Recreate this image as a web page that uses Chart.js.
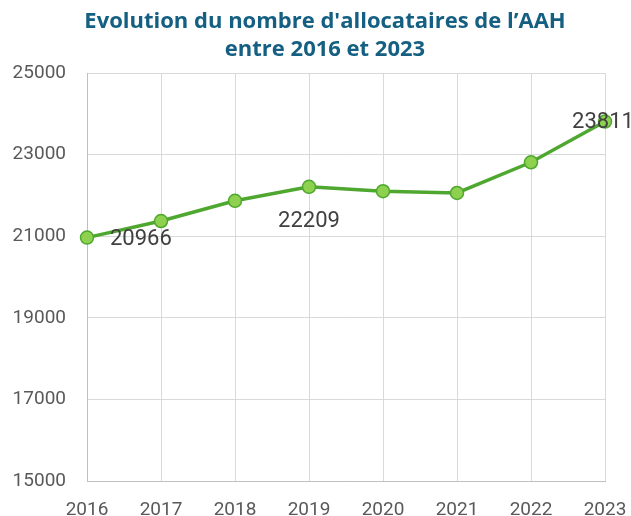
<!DOCTYPE html>
<html>
<head>
<meta charset="utf-8">
<script src="https://cdn.jsdelivr.net/npm/chart.js@4/dist/chart.umd.min.js"></script>
<style>
html,body{margin:0;padding:0;background:#fff;}
#wrap{width:631px;height:516px;}
</style>
</head>
<body>
<div id="wrap"><canvas id="c" width="631" height="516"></canvas></div>
<script>
const years = ['2016','2017','2018','2019','2020','2021','2022','2023'];
const allocataires = [20966, 21372, 21867, 22209, 22102, 22060, 22812, 23811];
const yTicks = [15000, 17000, 19000, 21000, 23000, 25000];
const titleLines = ["Evolution du nombre d'allocataires de l\u2019AAH", "entre 2016 et 2023"];
// which points carry a value label, and where
const labelPlacement = {0: 'right', 3: 'below', 7: 'center'};

const chartTitle = {
  id: 'chartTitle',
  afterDraw(chart) {
    const ctx = chart.ctx;
    ctx.save();
    ctx.font = 'bold 22px "Open Sans", sans-serif';
    ctx.fillStyle = '#156082';
    ctx.textAlign = 'center';
    ctx.textBaseline = 'middle';
    titleLines.forEach((t, i) => ctx.fillText(t, 325, 22 + i * 28));
    ctx.restore();
  }
};

const valueLabels = {
  id: 'valueLabels',
  afterDatasetsDraw(chart) {
    const ctx = chart.ctx;
    const meta = chart.getDatasetMeta(0);
    ctx.save();
    ctx.font = '22px Roboto, "Liberation Sans", sans-serif';
    ctx.fillStyle = '#404040';
    ctx.textBaseline = 'middle';
    Object.keys(labelPlacement).forEach(k => {
      const i = +k;
      const pt = meta.data[i];
      const txt = String(allocataires[i]);
      const place = labelPlacement[k];
      if (place === 'right') {
        ctx.textAlign = 'left';
        ctx.fillText(txt, pt.x + 23, pt.y + 2);
      } else if (place === 'below') {
        ctx.textAlign = 'center';
        ctx.fillText(txt, pt.x, pt.y + 35);
      } else {
        ctx.textAlign = 'center';
        ctx.fillText(txt, pt.x - 2, pt.y + 1);
      }
    });
    ctx.restore();
  }
};

new Chart(document.getElementById('c'), {
  type: 'line',
  data: {
    labels: years,
    datasets: [{
      data: allocataires,
      borderColor: '#4ea72e',
      borderWidth: 3.5,
      backgroundColor: '#8ed14f',
      pointBackgroundColor: '#8ed14f',
      pointBorderColor: '#4ea72e',
      pointBorderWidth: 1.5,
      pointRadius: 6.5,
      tension: 0,
      clip: false
    }]
  },
  options: {
    responsive: false,
    animation: false,
    devicePixelRatio: 1,
    layout: {padding: {left: 0, right: 26, top: 73, bottom: 0}},
    plugins: {
      legend: {display: false},
      tooltip: {enabled: false},
      title: {display: false}
    },
    scales: {
      x: {
        type: 'category',
        offset: false,
        grid: {color: '#d9d9d9', lineWidth: 1, drawTicks: false},
        border: {color: '#bfbfbf', width: 1},
        ticks: {color: '#595959', font: {family: 'Roboto, "Liberation Sans", sans-serif', size: 19}, padding: 18, maxRotation: 0, autoSkip: false},
        afterFit(s) { s.height = 35; s.paddingLeft = 0; s.paddingRight = 0; }
      },
      y: {
        min: 15000, max: 25000,
        afterBuildTicks(s) { s.ticks = yTicks.map(v => ({value: v})); },
        grid: {color: '#d9d9d9', lineWidth: 1, drawTicks: false},
        border: {color: '#bfbfbf', width: 1},
        ticks: {color: '#595959', font: {family: 'Roboto, "Liberation Sans", sans-serif', size: 19}, padding: 21, callback: v => String(v)},
        afterFit(s) { s.width = 87; s.paddingTop = 0; s.paddingBottom = 0; }
      }
    }
  },
  plugins: [valueLabels, chartTitle]
});
</script>
</body>
</html>
